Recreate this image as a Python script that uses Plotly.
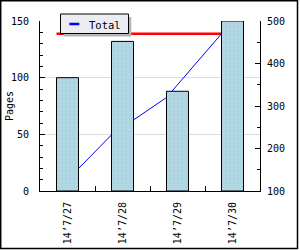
import plotly.graph_objects as go

# ---- data ----
dates = ["14’7/27", "14’7/28", "14’7/29", "14’7/30"]
pages = [100, 132, 88, 150]          # bars, left axis
running_total = [100, 232, 320, 470]  # blue line, right axis
total_value = 470                     # red reference line, right axis
legend_label = "Total"
y_title = "Pages"

W, H = 300, 250
ML, MR, MT, MB = 40, 40, 21, 59
PW, PH = W - ML - MR, H - MT - MB

def px(x):
    return (x - ML) / PW

def py(y):
    return (H - MB - y) / PH

FONT = "DejaVu Sans Mono"
idx = list(range(len(dates)))
bar_w = 0.4
line_x = [i - bar_w / 2 for i in idx]

fig = go.Figure()
# lines on the base subplot (right axis) -> drawn beneath the bars
fig.add_trace(go.Scatter(x=[line_x[0], line_x[-1]], y=[total_value, total_value],
                         mode="lines", line=dict(color="#ff0000", width=2.5),
                         yaxis="y", hoverinfo="skip"))
fig.add_trace(go.Scatter(x=line_x, y=running_total, mode="lines",
                         line=dict(color="#0000ff", width=1), name=legend_label,
                         yaxis="y"))
# bars on the overlay subplot (left axis)
fig.add_trace(go.Bar(x=idx, y=pages, width=bar_w, yaxis="y2",
                     marker=dict(color="#add8e6",
                                 line=dict(color="black", width=1),
                                 pattern=dict(shape=".", fgcolor="#e0a8a8",
                                              bgcolor="#add8e6", size=4,
                                              solidity=0.15))))

tickfont = dict(family=FONT, size=10, color="black")

fig.update_layout(
    width=W, height=H,
    margin=dict(l=ML, r=MR, t=MT, b=MB, pad=0),
    paper_bgcolor="white", plot_bgcolor="white",
    showlegend=False,
    xaxis=dict(range=[-0.5, 3.5], tickmode="array", tickvals=idx, ticktext=dates,
               tickangle=-90, ticks="", tickfont=tickfont, showgrid=False,
               zeroline=False, showline=True, linecolor="black", linewidth=1,
               ticklabelstandoff=6, automargin=False,
               minor=dict(tickvals=[0.5, 1.5, 2.5], ticks="inside", ticklen=5,
                          tickcolor="black", tickwidth=1, showgrid=False)),
    yaxis=dict(side="right", range=[100, 500], dtick=100, ticks="inside",
               ticklen=5, tickcolor="black", showgrid=False, zeroline=False,
               showline=True, linecolor="black", tickfont=tickfont,
               ticklabelstandoff=4, automargin=False,
               minor=dict(dtick=50, ticks="inside", ticklen=3, tickcolor="black")),
    yaxis2=dict(side="left", overlaying="y", range=[0, 150], dtick=50,
                ticks="inside", ticklen=5, tickcolor="black", showgrid=True,
                gridcolor="#dcdcdc", gridwidth=1, zeroline=False, showline=True,
                linecolor="black", tickfont=tickfont, ticklabelstandoff=8,
                automargin=False,
                minor=dict(dtick=10, ticks="inside", ticklen=3, tickcolor="black")),
)

shapes = [
    # legend shadow + box + sample line
    dict(type="rect", xref="paper", yref="paper", x0=px(63.7), x1=px(131.3),
         y0=py(36.5), y1=py(17), fillcolor="#b4b4b4", line=dict(width=0)),
    dict(type="rect", xref="paper", yref="paper", x0=px(60.5), x1=px(128.5),
         y0=py(33.5), y1=py(14), fillcolor="#edecf2", line=dict(color="black", width=1)),
    dict(type="line", xref="paper", yref="paper", x0=px(69.3), x1=px(79.3),
         y0=py(24), y1=py(24), line=dict(color="#0000ff", width=2.5)),
    # image frame
    dict(type="rect", xref="paper", yref="paper", x0=px(0.7), x1=px(297.5),
         y0=py(248.5), y1=py(0.7), line=dict(color="black", width=1.5)),
]
fig.update_layout(shapes=shapes)
fig.add_annotation(xref="paper", yref="paper", x=px(87), y=py(24.5), text=legend_label,
                   showarrow=False, xanchor="left", yanchor="middle",
                   font=dict(family=FONT, size=10.5, color="black"))
fig.add_annotation(xref="paper", yref="paper", x=px(9), y=py(106), text=y_title,
                   textangle=-90, showarrow=False, xanchor="center", yanchor="middle",
                   font=dict(family=FONT, size=10, color="black"))

fig.write_html("out.html")
